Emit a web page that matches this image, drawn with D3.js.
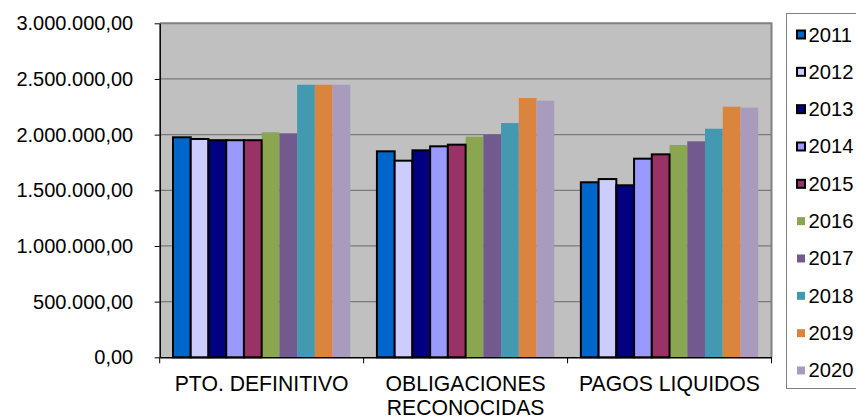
<!DOCTYPE html>
<html>
<head>
<meta charset="utf-8">
<script src="https://cdn.jsdelivr.net/npm/d3@7"></script>
<style>
  html, body { margin: 0; padding: 0; background: #ffffff; }
  svg { display: block; }
  text { font-family: "Liberation Sans", Arial, sans-serif; fill: #000; }
</style>
</head>
<body>
<svg id="chart" width="856" height="417"></svg>
<script>
// ---- data ----
const categories = ["PTO. DEFINITIVO", "OBLIGACIONES RECONOCIDAS", "PAGOS LIQUIDOS"];
const categoryLines = [["PTO. DEFINITIVO"], ["OBLIGACIONES", "RECONOCIDAS"], ["PAGOS LIQUIDOS"]];
const years = ["2011", "2012", "2013", "2014", "2015", "2016", "2017", "2018", "2019", "2020"];
const ptoDefinitivo = [1976000, 1961000, 1950000, 1950000, 1950000, 2021000, 2012000, 2448000, 2448000, 2448000];
const obligacionesReconocidas = [1850000, 1766000, 1859000, 1895000, 1910000, 1982000, 2000000, 2104000, 2329000, 2305000];
const pagosLiquidos = [1572000, 1601000, 1545000, 1784000, 1823000, 1907000, 1940000, 2053000, 2251000, 2242000];
const yTicks = [0, 500000, 1000000, 1500000, 2000000, 2500000, 3000000];
const colors = ["#0066CC", "#CCCCFF", "#000080", "#9999FF", "#993366", "#8BA650", "#725A8F", "#4399B0", "#DB843D", "#A99BBD"];
const outlined = [true, true, true, true, true, false, false, false, false, false];

const seriesByCategory = [ptoDefinitivo, obligacionesReconocidas, pagosLiquidos];

// ---- layout ----
const plot = { left: 159.7, right: 771.5, top: 23.3, bottom: 357.3 };
const svg = d3.select("#chart");

const x0 = d3.scaleBand().domain(categories).range([plot.left, plot.right]).paddingInner(0).paddingOuter(0);
const x1 = d3.scaleBand().domain(years).range([0, x0.bandwidth()]).paddingInner(0).paddingOuter(0.75);
const y = d3.scaleLinear().domain([0, 3000000]).range([plot.bottom, plot.top]);
const color = d3.scaleOrdinal().domain(years).range(colors);

const esLocale = d3.formatLocale({ decimal: ",", thousands: ".", grouping: [3], currency: ["", " €"] });
const fmt = esLocale.format(",.2f");

// plot background
svg.append("rect")
  .attr("x", plot.left).attr("y", plot.top)
  .attr("width", plot.right - plot.left).attr("height", plot.bottom - plot.top)
  .attr("fill", "#C0C0C0");

// gridlines
svg.append("g").selectAll("line").data(yTicks.filter(d => d > 0 && d < 3000000)).join("line")
  .attr("x1", plot.left).attr("x2", plot.right)
  .attr("y1", d => y(d)).attr("y2", d => y(d))
  .attr("stroke", "#7a7a7a").attr("stroke-width", 1.3);

// top & right border
svg.append("path")
  .attr("d", `M${plot.left},${plot.top}H${plot.right}V${plot.bottom}`)
  .attr("fill", "none").attr("stroke", "#808080").attr("stroke-width", 2);

// bars
const flat = [];
categories.forEach((c, ci) => {
  years.forEach((yr, si) => flat.push({ cat: c, year: yr, si, value: seriesByCategory[ci][si] }));
});
const barOrder = flat.slice().sort((a, b) => (outlined[a.si] ? 1 : 0) - (outlined[b.si] ? 1 : 0));
svg.append("g").selectAll("rect").data(barOrder).join("rect")
  .attr("x", d => x0(d.cat) + x1(d.year))
  .attr("y", d => y(d.value))
  .attr("width", x1.bandwidth())
  .attr("height", d => y(0) - y(d.value))
  .attr("fill", d => color(d.year))
  .attr("stroke", d => outlined[d.si] ? "#000" : "none")
  .attr("stroke-width", 2);

// y axis
const yAxis = svg.append("g")
  .attr("transform", `translate(${plot.left},0)`)
  .call(d3.axisLeft(y).tickValues(yTicks).tickFormat(fmt).tickSize(5).tickSizeOuter(0).tickPadding(21.5));
yAxis.select(".domain").attr("stroke", "#000").attr("stroke-width", 1.5);
yAxis.selectAll(".tick line").attr("stroke", "#000").attr("stroke-width", 1);
yAxis.selectAll(".tick text")
  .style("font-family", '"Liberation Sans", Arial, sans-serif')
  .style("font-size", "20px").attr("fill", "#000");

// x axis
const xAxis = svg.append("g")
  .attr("transform", `translate(0,${plot.bottom})`)
  .call(d3.axisBottom(x0).tickSize(0).tickSizeOuter(0).tickFormat(""));
xAxis.select(".domain").attr("stroke", "#000").attr("stroke-width", 1.5);
const boundaries = categories.map(c => x0(c)).concat([x0(categories[categories.length - 1]) + x0.bandwidth()]);
svg.append("g").selectAll("line").data(boundaries).join("line")
  .attr("x1", d => d).attr("x2", d => d)
  .attr("y1", plot.bottom).attr("y2", plot.bottom + 6)
  .attr("stroke", "#000").attr("stroke-width", 1);

// category labels
const catText = svg.append("g").selectAll("text").data(categories).join("text")
  .attr("text-anchor", "middle")
  .style("font-size", "21.2px");
catText.each(function (c, i) {
  const t = d3.select(this);
  categoryLines[i].forEach((line, li) => {
    t.append("tspan")
      .attr("x", x0(c) + x0.bandwidth() / 2)
      .attr("y", 391 + li * 23.5)
      .text(line);
  });
});

// legend
const legend = svg.append("g");
legend.append("rect")
  .attr("x", 786.5).attr("y", 13.5).attr("width", 100).attr("height", 375)
  .attr("fill", "#fff").attr("stroke", "#808080").attr("stroke-width", 1);
const item = legend.selectAll("g.item").data(years).join("g")
  .attr("class", "item")
  .attr("transform", (d, i) => `translate(0,${34.5 + i * 37.33})`);
item.append("rect")
  .attr("x", 797).attr("y", -4).attr("width", 8).attr("height", 8)
  .attr("fill", d => color(d))
  .attr("stroke", (d, i) => outlined[i] ? "#000" : "none")
  .attr("stroke-width", 2);
item.append("text")
  .attr("x", 808.5).attr("y", 7)
  .style("font-size", "20.2px")
  .text(d => d);
</script>
</body>
</html>
